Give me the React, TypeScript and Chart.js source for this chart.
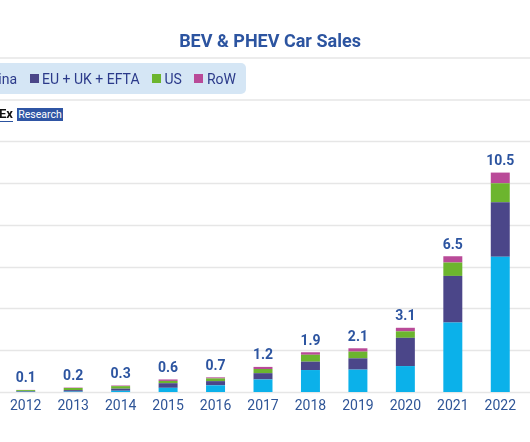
import React, { useEffect, useRef } from "react";
import { Chart, registerables } from "chart.js";

Chart.register(...registerables);

// ---- data (million units) ----
const years = ["2012", "2013", "2014", "2015", "2016", "2017", "2018", "2019", "2020", "2021", "2022"];
const china = [0.01, 0.02, 0.06, 0.2, 0.32, 0.6, 1.05, 1.07, 1.24, 3.32, 6.47];
const euUkEfta = [0.03, 0.07, 0.1, 0.22, 0.2, 0.3, 0.4, 0.54, 1.35, 2.23, 2.6];
const us = [0.05, 0.1, 0.12, 0.11, 0.13, 0.2, 0.33, 0.32, 0.31, 0.64, 0.91];
const row = [0.01, 0.02, 0.03, 0.07, 0.05, 0.1, 0.12, 0.16, 0.17, 0.3, 0.51];
const totalLabels = ["0.1", "0.2", "0.3", "0.6", "0.7", "1.2", "1.9", "2.1", "3.1", "6.5", "10.5"];
const seriesNames = ["China", "EU + UK + EFTA", "US", "RoW"];
const seriesColors = ["#0bb1ea", "#4b4689", "#6cb52e", "#b94a98"];
const yTicks = [0, 2, 4, 6, 8, 10, 12];

const FONT = "Roboto, 'Noto Sans', sans-serif";
const BLUE = "#2c54a0";

const fullGridPlugin = {
  id: "fullGrid",
  beforeDatasetsDraw(chart: any) {
    const { ctx } = chart;
    const y = chart.scales.y;
    ctx.save();
    ctx.strokeStyle = "#e6e6e6";
    ctx.lineWidth = 1.5;
    yTicks.forEach((v) => {
      const py = Math.round(y.getPixelForValue(v)) + 0.5;
      ctx.beginPath();
      ctx.moveTo(0, py);
      ctx.lineTo(chart.width, py);
      ctx.stroke();
    });
    ctx.restore();
  },
};

const totalsPlugin = {
  id: "totals",
  afterDatasetsDraw(chart: any) {
    const { ctx } = chart;
    const last = chart.data.datasets.length - 1;
    const meta = chart.getDatasetMeta(last);
    ctx.save();
    ctx.fillStyle = BLUE;
    ctx.font = `bold 14px ${FONT}`;
    ctx.textAlign = "center";
    ctx.textBaseline = "middle";
    meta.data.forEach((bar: any, i: number) => {
      ctx.fillText(totalLabels[i], bar.x, bar.y - 11);
    });
    ctx.restore();
  },
};

export default function App() {
  const canvasRef = useRef<HTMLCanvasElement | null>(null);

  useEffect(() => {
    document.body.style.margin = "0";
    const canvas = canvasRef.current;
    if (!canvas) return;
    const datasets = [china, euUkEfta, us, row].map((d, i) => ({
      label: seriesNames[i],
      data: d,
      backgroundColor: seriesColors[i],
      borderWidth: 0,
      categoryPercentage: 0.8,
      barPercentage: 0.5,
    }));
    const chart = new Chart(canvas, {
      type: "bar",
      data: { labels: years, datasets },
      options: {
        responsive: false,
        animation: false,
        devicePixelRatio: 1,
        layout: { padding: { top: 141, left: 2, right: 6, bottom: 0 } },
        plugins: {
          legend: { display: false },
          title: { display: false },
          tooltip: { enabled: false },
        },
        scales: {
          x: {
            stacked: true,
            grid: { display: false, drawTicks: false },
            border: { display: false },
            ticks: {
              color: "#2f5597",
              font: { family: FONT, size: 14 },
              padding: 6,
              maxRotation: 0,
            },
            afterFit: (scale: any) => {
              scale.height = 50;
            },
          },
          y: {
            stacked: true,
            min: 0,
            max: 12,
            ticks: { display: false, stepSize: 2 },
            grid: { display: false, drawTicks: false },
            border: { display: false },
            afterFit: (scale: any) => {
              scale.width = 0;
            },
          },
        },
      },
      plugins: [fullGridPlugin, totalsPlugin],
    });
    return () => chart.destroy();
  }, []);

  return (
    <div style={{ position: "absolute", left: 0, top: 0, width: 530, height: 442, overflow: "hidden", background: "#fff", fontFamily: FONT }}>
      <canvas ref={canvasRef} width={530} height={442} style={{ position: "absolute", left: 0, top: 0 }} />
      <div style={{ position: "absolute", left: 0, top: 30, width: 540, textAlign: "center", color: BLUE, fontWeight: 700, fontSize: 18, lineHeight: "22px" }}>
        BEV &amp; PHEV Car Sales
      </div>
      <div style={{ position: "absolute", left: 0, top: 57, width: 530, height: 2, background: "#ececec" }} />
      <div
        style={{
          position: "absolute",
          left: -60,
          top: 63,
          width: 306,
          height: 31,
          background: "#d5e6f5",
          borderRadius: 5,
        }}
      />
      <div style={{ position: "absolute", left: -31, top: 63, height: 31, display: "flex", alignItems: "center", color: "#2b3a8a", fontSize: 14, whiteSpace: "nowrap" }}>
        {seriesNames.map((name, i) => (
          <span key={name} style={{ display: "inline-flex", alignItems: "center", marginRight: 12.5 }}>
            <span style={{ display: "inline-block", width: 9, height: 9, background: seriesColors[i], marginRight: 3.5 }} />
            {name}
          </span>
        ))}
      </div>
      <div style={{ position: "absolute", left: 0, top: 99, width: 530, height: 2, background: "#ececec" }} />
      <div style={{ position: "absolute", left: -1, top: 107, fontSize: 13, fontWeight: 700, color: "#111", lineHeight: "14px", borderBottom: "1px solid #2c54a0" }}>
        Ex
      </div>
      <div style={{ position: "absolute", left: 17, top: 108, width: 46, height: 13, background: "#2f55a4", color: "#fff", fontSize: 10.5, lineHeight: "13px", textAlign: "center" }}>
        Research
      </div>
    </div>
  );
}
